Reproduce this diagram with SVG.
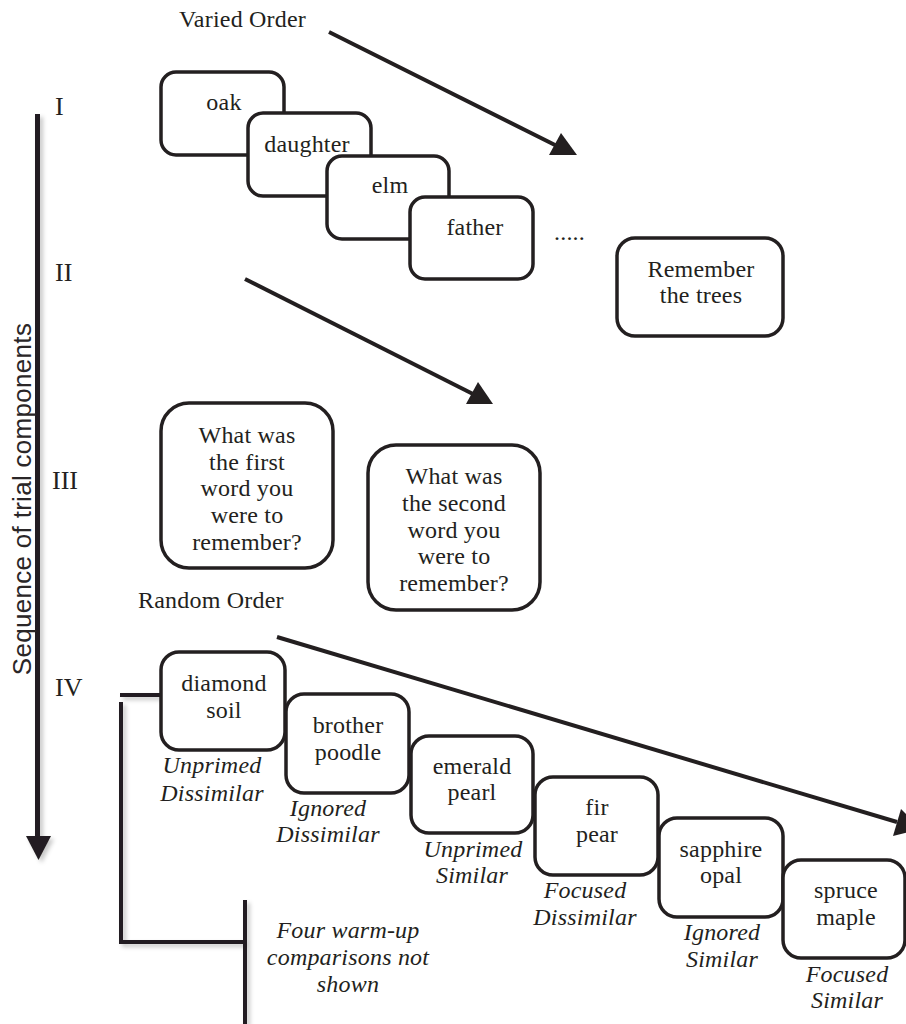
<svg xmlns="http://www.w3.org/2000/svg" width="906" height="1024" viewBox="0 0 906 1024">
<style>
  .t { font-family: "Liberation Serif", "Times New Roman", serif; font-size: 24px; fill: #231F20; letter-spacing: 0.2px; }
  .r { font-size: 26px; letter-spacing: 0; }
  .c { text-anchor: middle; }
  .i { font-style: italic; }
  .box { fill: #fff; stroke: #231F20; stroke-width: 3.5; }
  .ln { stroke: #231F20; stroke-width: 4; fill: none; }
  .ah { fill: #231F20; }
  .ax { font-family: "Liberation Sans", Arial, sans-serif; font-size: 26px; fill: #2a2627; letter-spacing: 0.3px; }
</style>
<defs>
  <filter id="sh" x="-50%" y="-50%" width="200%" height="200%">
    <feDropShadow dx="3" dy="3" stdDeviation="2" flood-color="#000" flood-opacity="0.22"/>
  </filter>
</defs>
<rect width="906" height="1024" fill="#fff"/>

<!-- axis -->
<g id="axis" filter="url(#sh)">
  <line x1="37.5" y1="114" x2="37.5" y2="838" stroke="#231F20" stroke-width="5"/>
  <polygon points="26,836 51,836 38.5,860" fill="#231F20"/>
</g>
<text class="ax" transform="translate(31,499) rotate(-90)" text-anchor="middle">Sequence of trial components</text>

<!-- labels -->
<g id="labels">
  <text class="t" x="179" y="27">Varied Order</text>
  <text class="t r" x="55" y="115">I</text>
  <text class="t r" x="55" y="281">II</text>
  <text class="t r" x="52" y="489">III</text>
  <text class="t r" x="55" y="696">IV</text>
  <text class="t" x="138" y="608">Random Order</text>
  <text class="t" x="554" y="240">.....</text>
</g>

<!-- connectors -->
<g id="connectors">
  <line class="ln" x1="329" y1="32" x2="557" y2="146"/>
  <polygon class="ah" points="549,155 577,155 561,133"/>
  <line class="ln" x1="245" y1="279" x2="473" y2="394"/>
  <polygon class="ah" points="466,404 493,404 478,382"/>
  <line class="ln" x1="277" y1="637" x2="897" y2="822"/>
  <polygon class="ah" points="893,836 901,809 921,829"/>
  <g id="bracket" filter="url(#sh)">
    <line class="ln" x1="120" y1="695" x2="162" y2="695"/>
    <line class="ln" x1="121" y1="702" x2="121" y2="944"/>
    <line class="ln" x1="119" y1="942" x2="245" y2="942"/>
    <line class="ln" x1="245" y1="900" x2="245" y2="1024"/>
  </g>
</g>

<!-- Phase I -->
<g id="n-oak"><rect class="box" x="161" y="72" width="123" height="83" rx="15"/><text class="t c" x="224" y="110">oak</text></g>
<g id="n-daughter"><rect class="box" x="248" y="113" width="123" height="83" rx="15"/><text class="t c" x="307" y="152">daughter</text></g>
<g id="n-elm"><rect class="box" x="327" y="156" width="122" height="83" rx="15"/><text class="t c" x="390" y="193">elm</text></g>
<g id="n-father"><rect class="box" x="410" y="197" width="123" height="82" rx="15"/><text class="t c" x="475" y="235">father</text></g>

<!-- Phase II -->
<g id="n-remember"><rect class="box" x="617" y="238" width="166" height="98" rx="18"/>
  <text class="t c" x="701" y="277">Remember</text><text class="t c" x="701" y="303">the trees</text></g>

<!-- Phase III -->
<g id="n-q1"><rect class="box" x="161" y="403" width="172" height="165" rx="28"/>
  <text class="t c" x="247" y="443">What was</text>
  <text class="t c" x="247" y="470">the first</text>
  <text class="t c" x="247" y="496">word you</text>
  <text class="t c" x="247" y="523">were to</text>
  <text class="t c" x="247" y="550">remember?</text></g>
<g id="n-q2"><rect class="box" x="368" y="445" width="172" height="165" rx="28"/>
  <text class="t c" x="454" y="484">What was</text>
  <text class="t c" x="454" y="511">the second</text>
  <text class="t c" x="454" y="538">word you</text>
  <text class="t c" x="454" y="564">were to</text>
  <text class="t c" x="454" y="591">remember?</text></g>

<!-- Phase IV -->
<g id="n-diamond"><rect class="box" x="161" y="652" width="124" height="98" rx="18"/>
  <text class="t c" x="224" y="691">diamond</text><text class="t c" x="224" y="718">soil</text>
  <text class="t c i" x="212" y="773">Unprimed</text><text class="t c i" x="212" y="801">Dissimilar</text></g>
<g id="n-brother"><rect class="box" x="286" y="694" width="123" height="99" rx="18"/>
  <text class="t c" x="348" y="733">brother</text><text class="t c" x="348" y="760">poodle</text>
  <text class="t c i" x="328" y="816">Ignored</text><text class="t c i" x="328" y="842">Dissimilar</text></g>
<g id="n-emerald"><rect class="box" x="411" y="736" width="122" height="97" rx="18"/>
  <text class="t c" x="472" y="774">emerald</text><text class="t c" x="472" y="800">pearl</text>
  <text class="t c i" x="473" y="857">Unprimed</text><text class="t c i" x="472" y="883">Similar</text></g>
<g id="n-fir"><rect class="box" x="535" y="777" width="123" height="98" rx="18"/>
  <text class="t c" x="597" y="815">fir</text><text class="t c" x="597" y="842">pear</text>
  <text class="t c i" x="585" y="898">Focused</text><text class="t c i" x="585" y="925">Dissimilar</text></g>
<g id="n-sapphire"><rect class="box" x="659" y="818" width="124" height="99" rx="18"/>
  <text class="t c" x="721" y="857">sapphire</text><text class="t c" x="721" y="883">opal</text>
  <text class="t c i" x="722" y="940">Ignored</text><text class="t c i" x="722" y="967">Similar</text></g>
<g id="n-spruce"><rect class="box" x="783" y="860" width="122" height="98" rx="18"/>
  <text class="t c" x="846" y="898">spruce</text><text class="t c" x="846" y="925">maple</text>
  <text class="t c i" x="847" y="982">Focused</text><text class="t c i" x="847" y="1008">Similar</text></g>

<!-- warm-up note -->
<g id="note">
  <text class="t c i" x="348" y="938">Four warm-up</text>
  <text class="t c i" x="348" y="965">comparisons not</text>
  <text class="t c i" x="348" y="992">shown</text>
</g>
</svg>
